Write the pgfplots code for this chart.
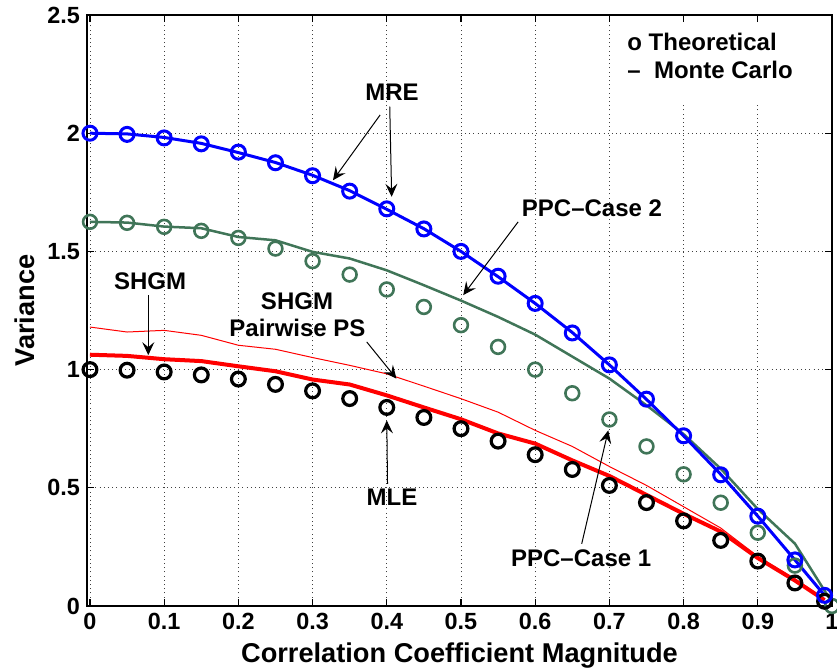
\documentclass[border=0pt]{standalone}
\usepackage{fontspec}
\setmainfont{Liberation Sans}
\usepackage{pgfplots}
\pgfplotsset{compat=1.18}
\usetikzlibrary{arrows.meta}
\definecolor{ppcgreen}{RGB}{64,117,88}
\begin{document}
\begin{tikzpicture}
\begin{axis}[
  scale only axis, width=372.5pt, height=295.5pt,
  xmin=-0.004, xmax=1.0, ymin=0, ymax=2.5,
  xtick={0,0.1,0.2,0.3,0.4,0.5,0.6,0.7,0.8,0.9,1},
  ytick={0,0.5,1,1.5,2,2.5},
  clip=false,
  axis line style={line width=0.8pt},
  tick style={line width=0.6pt, black},
  tick align=inside, major tick length=3.5pt,
  grid=major,
  grid style={black!75, line width=0.45pt, dash pattern=on 0.5pt off 1.6pt},
  /pgf/number format/assume math mode=true,
  ticklabel style={font=\fontsize{11.7}{13}\selectfont\bfseries},
  label style={font=\fontsize{13.6}{16}\selectfont\bfseries},
  xlabel={Correlation Coefficient Magnitude},
  ylabel={Variance},
  xlabel style={at={(axis description cs:0.5,0)}, anchor=base, yshift=-28pt},
  ylabel style={at={([xshift=-26pt]axis description cs:0,0.5)}, anchor=base},
]
% PPC Monte Carlo (green line)
\addplot[ppcgreen, line width=1.25pt] coordinates {
(0,1.625) (0.05,1.622) (0.1,1.605) (0.15,1.598) (0.2,1.561) (0.25,1.547)
(0.3,1.498) (0.35,1.470) (0.4,1.420) (0.45,1.357) (0.5,1.292) (0.55,1.223)
(0.6,1.148) (0.65,1.055) (0.7,0.962) (0.75,0.849) (0.8,0.727) (0.85,0.581)
(0.9,0.410) (0.95,0.264) (0.997,0.030)};
% PPC theoretical (green circles)
\addplot[ppcgreen, only marks, mark=o, mark size=3.45pt, mark options={line width=1.3pt}] coordinates {
(0,1.625) (0.05,1.621) (0.1,1.604) (0.15,1.587) (0.2,1.557) (0.25,1.512)
(0.3,1.459) (0.35,1.402) (0.4,1.339) (0.45,1.265) (0.5,1.188) (0.55,1.096)
(0.6,1.000) (0.65,0.900) (0.7,0.789) (0.75,0.675) (0.8,0.557) (0.85,0.437)
(0.9,0.310) (0.95,0.171) (1.0,0.000)};
% SHGM Pairwise PS (thin red)
\addplot[red, line width=0.5pt] coordinates {
(0,1.180) (0.05,1.159) (0.1,1.166) (0.15,1.145) (0.2,1.103) (0.25,1.086)
(0.3,1.051) (0.35,1.018) (0.4,0.982) (0.45,0.930) (0.5,0.877) (0.55,0.820)
(0.6,0.743) (0.65,0.675) (0.7,0.590) (0.75,0.510) (0.8,0.420) (0.85,0.330)
(0.9,0.210) (0.95,0.115) (0.99,0.030)};
% SHGM Monte Carlo (thick red)
\addplot[red, line width=2pt] coordinates {
(0,1.063) (0.05,1.058) (0.1,1.044) (0.15,1.036) (0.2,1.014) (0.25,0.993)
(0.3,0.958) (0.35,0.937) (0.4,0.891) (0.45,0.840) (0.5,0.790) (0.55,0.730)
(0.6,0.687) (0.65,0.616) (0.7,0.550) (0.75,0.470) (0.8,0.390) (0.85,0.315)
(0.9,0.203) (0.95,0.108) (0.99,0.025)};
% MLE theoretical (black circles)
\addplot[black, only marks, mark=o, mark size=3.45pt, mark options={line width=1.6pt}] coordinates {
(0,1.000) (0.05,0.9975) (0.1,0.990) (0.15,0.9775) (0.2,0.960) (0.25,0.9375)
(0.3,0.910) (0.35,0.8775) (0.4,0.840) (0.45,0.7975) (0.5,0.750) (0.55,0.6975)
(0.6,0.640) (0.65,0.5775) (0.7,0.510) (0.75,0.4375) (0.8,0.360) (0.85,0.2775)
(0.9,0.190) (0.95,0.0975) (0.99,0.020)};
% MRE Monte Carlo (blue line)
\addplot[blue, line width=1.5pt] coordinates {
(0,2.000) (0.05,1.997) (0.1,1.982) (0.15,1.957) (0.2,1.918) (0.25,1.876)
(0.3,1.822) (0.35,1.757) (0.4,1.678) (0.45,1.596) (0.5,1.500) (0.55,1.393)
(0.6,1.280) (0.65,1.157) (0.7,1.020) (0.75,0.874) (0.8,0.720) (0.85,0.557)
(0.9,0.380) (0.95,0.195) (0.99,0.045)};
% MRE theoretical (blue circles)
\addplot[blue, only marks, mark=o, mark size=3.5pt, mark options={line width=1.5pt}] coordinates {
(0,2.000) (0.05,1.995) (0.1,1.980) (0.15,1.955) (0.2,1.920) (0.25,1.875)
(0.3,1.820) (0.35,1.755) (0.4,1.680) (0.45,1.595) (0.5,1.500) (0.55,1.395)
(0.6,1.280) (0.65,1.155) (0.7,1.020) (0.75,0.875) (0.8,0.720) (0.85,0.555)
(0.9,0.380) (0.95,0.195) (0.99,0.045)};
% legend box
\fill[white] (axis cs:0.712,2.12) rectangle (axis cs:0.994,2.462);
\begin{scope}[font=\fontsize{12}{14}\selectfont\bfseries]
\node[anchor=base west, inner sep=0pt] at (axis cs:0.7237,2.349) {o Theoretical};
\node[anchor=base west, inner sep=0pt] at (axis cs:0.7237,2.232) {--\ \ Monte Carlo};
\node[anchor=base, inner sep=0pt] at (axis cs:0.407,2.140) {MRE};
\node[anchor=base, inner sep=0pt] at (axis cs:0.6765,1.646) {PPC--Case 2};
\node[anchor=base, inner sep=0pt] at (axis cs:0.081,1.339) {SHGM};
\node[anchor=base, inner sep=0pt] at (axis cs:0.279,1.254) {SHGM};
\node[anchor=base, inner sep=0pt] at (axis cs:0.2796,1.141) {Pairwise PS};
\node[anchor=base, inner sep=0pt] at (axis cs:0.407,0.4255) {MLE};
\node[anchor=base, inner sep=0pt] at (axis cs:0.662,0.167) {PPC--Case 1};
\end{scope}
\begin{scope}[line width=0.5pt, -{Stealth[length=6.5pt,width=6pt,inset=2.5pt]}]
\draw (axis cs:0.391,2.077) -- (axis cs:0.3275,1.801);
\draw (axis cs:0.404,2.112) -- (axis cs:0.4066,1.731);
\draw (axis cs:0.577,1.625) -- (axis cs:0.503,1.315);
\draw (axis cs:0.0786,1.3146) -- (axis cs:0.0786,1.061);
\draw (axis cs:0.373,1.117) -- (axis cs:0.413,0.962);
\draw (axis cs:0.401,0.517) -- (axis cs:0.400,0.785);
\draw (axis cs:0.6627,0.263) -- (axis cs:0.6985,0.743);
\end{scope}
\end{axis}
\pgfresetboundingbox
\path (-43.5pt,-32.5pt) rectangle (375pt,303pt);
\end{tikzpicture}
\end{document}
